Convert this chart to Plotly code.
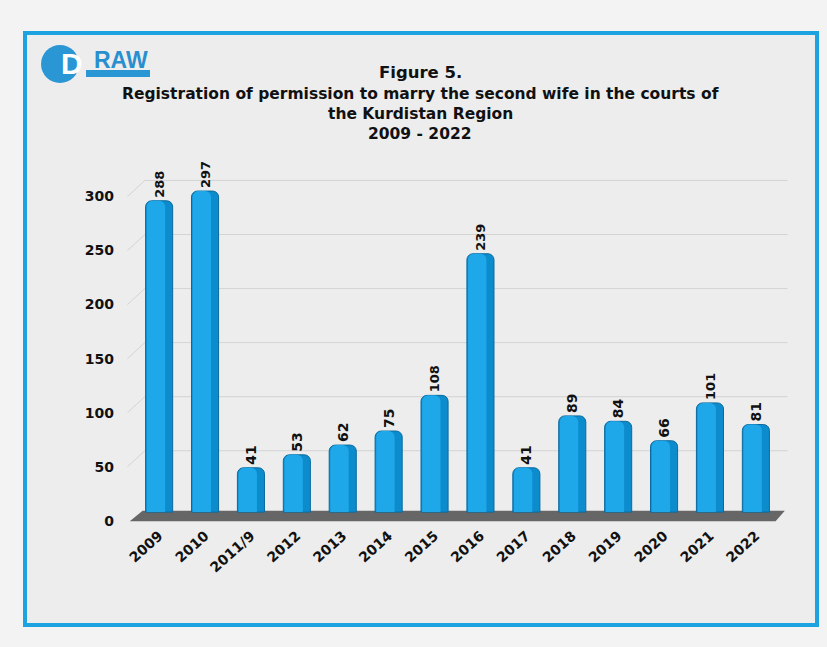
import plotly.graph_objects as go

years = ["2009", "2010", "2011/9", "2012", "2013", "2014", "2015",
         "2016", "2017", "2018", "2019", "2020", "2021", "2022"]
counts = [288, 297, 41, 53, 62, 75, 108, 239, 41, 89, 84, 66, 101, 81]
y_ticks = [0, 50, 100, 150, 200, 250, 300]

W, H = 827, 647
L, R, T, B = 127, 39, 177, 123
pw, ph = W - L - R, H - T - B
Y_RANGE = [-3, 318]
BACK = 14.8   # back-wall offset of the 3D gridlines
LIFT = 8      # bars sit on the back plane


def px_x(x):
    return (x - L) / pw


def px_y(y):
    return (H - B - y) / ph


FONT = "Verdana, DejaVu Sans, sans-serif"

fig = go.Figure()
fig.add_trace(go.Bar(
    x=years, y=counts, yaxis="y2",
    width=0.59,
    marker=dict(color="#0d8ccd", line=dict(color="#0a6a9e", width=1), cornerradius=6),
    text=counts, textposition="outside", textangle=-90,
    textfont=dict(family=FONT, size=14, color="#111111", weight="bold"),
    cliponaxis=False,
))
# lighter highlight on the left side of each bar
fig.add_trace(go.Bar(
    x=years, y=counts, yaxis="y2",
    width=0.4, offset=-0.27,
    marker=dict(color="#1ea8ea", line=dict(width=0), cornerradius=6),
    hoverinfo="skip",
))

shapes = [
    # panel with blue border
    dict(type="rect", xref="paper", yref="paper",
         x0=px_x(25), x1=px_x(817), y0=px_y(625), y1=px_y(33),
         fillcolor="#ededed", line=dict(color="#1ca3e0", width=4), layer="below"),
    # floor
    dict(type="path", xref="x", yref="y",
         path="M -0.64,-0.5 L 13.43,-0.5 L 13.63,9.2 L -0.36,9.2 Z",
         fillcolor="#666666", line=dict(width=0), layer="below"),
    # logo
    dict(type="circle", xref="paper", yref="paper",
         x0=px_x(41), x1=px_x(79), y0=px_y(83), y1=px_y(45),
         fillcolor="#2a96d4", line=dict(width=0)),
    dict(type="rect", xref="paper", yref="paper",
         x0=px_x(86), x1=px_x(150), y0=px_y(77), y1=px_y(70),
         fillcolor="#2a96d4", line=dict(width=0)),
]
# 3D back-wall gridlines
for v in y_ticks[1:]:
    shapes.append(dict(type="line", xref="x", yref="y", x0=-0.31, x1=13.69,
                       y0=v + BACK, y1=v + BACK, line=dict(color="#d4d4d4", width=1),
                       layer="below"))
    shapes.append(dict(type="line", xref="x", yref="y", x0=-0.69, x1=-0.31,
                       y0=v, y1=v + BACK, line=dict(color="#d4d4d4", width=1),
                       layer="below"))

title_font = dict(family=FONT, size=15.5, color="#111111")
annotations = [
    dict(text="<b>Figure 5.</b>", x=px_x(420), y=px_y(72),
         font=dict(family=FONT, size=16.5, color="#111111")),
    dict(text="<b>Registration of permission to marry the second wife in the courts of</b>",
         x=px_x(420), y=px_y(94), font=title_font),
    dict(text="<b>the Kurdistan Region</b>", x=px_x(420), y=px_y(114), font=title_font),
    dict(text="<b>2009 - 2022</b>", x=px_x(420), y=px_y(134), font=title_font),
    dict(text="<b>D</b>", x=px_x(72), y=px_y(63),
         font=dict(family="Liberation Sans, Arial", size=30, color="#ffffff")),
    dict(text="<b>RAW</b>", x=px_x(121), y=px_y(60),
         font=dict(family="Liberation Sans, Arial", size=23, color="#2a8fcf")),
]
for a in annotations:
    a.update(xref="paper", yref="paper", showarrow=False,
             xanchor="center", yanchor="middle")

tick_font = dict(family=FONT, size=14, color="#111111", weight="bold")
fig.update_layout(
    width=W, height=H,
    margin=dict(l=L, r=R, t=T, b=B),
    paper_bgcolor="#f3f3f3",
    plot_bgcolor="rgba(0,0,0,0)",
    showlegend=False,
    barmode="overlay",
    shapes=shapes,
    annotations=annotations,
    xaxis=dict(
        type="category", range=[-0.7, 13.7],
        tickangle=-42, showgrid=False, showline=False, ticks="",
        tickfont=tick_font,
    ),
    yaxis=dict(
        range=Y_RANGE, tickvals=y_ticks, showgrid=False,
        zeroline=False, showline=False, ticks="", ticklabelstandoff=12,
        tickfont=tick_font,
    ),
    yaxis2=dict(
        range=[Y_RANGE[0] - LIFT, Y_RANGE[1] - LIFT], overlaying="y",
        visible=False,
    ),
)

fig.write_html("out.html", config={"displayModeBar": False},
               post_script="document.body.style.margin='0';")
